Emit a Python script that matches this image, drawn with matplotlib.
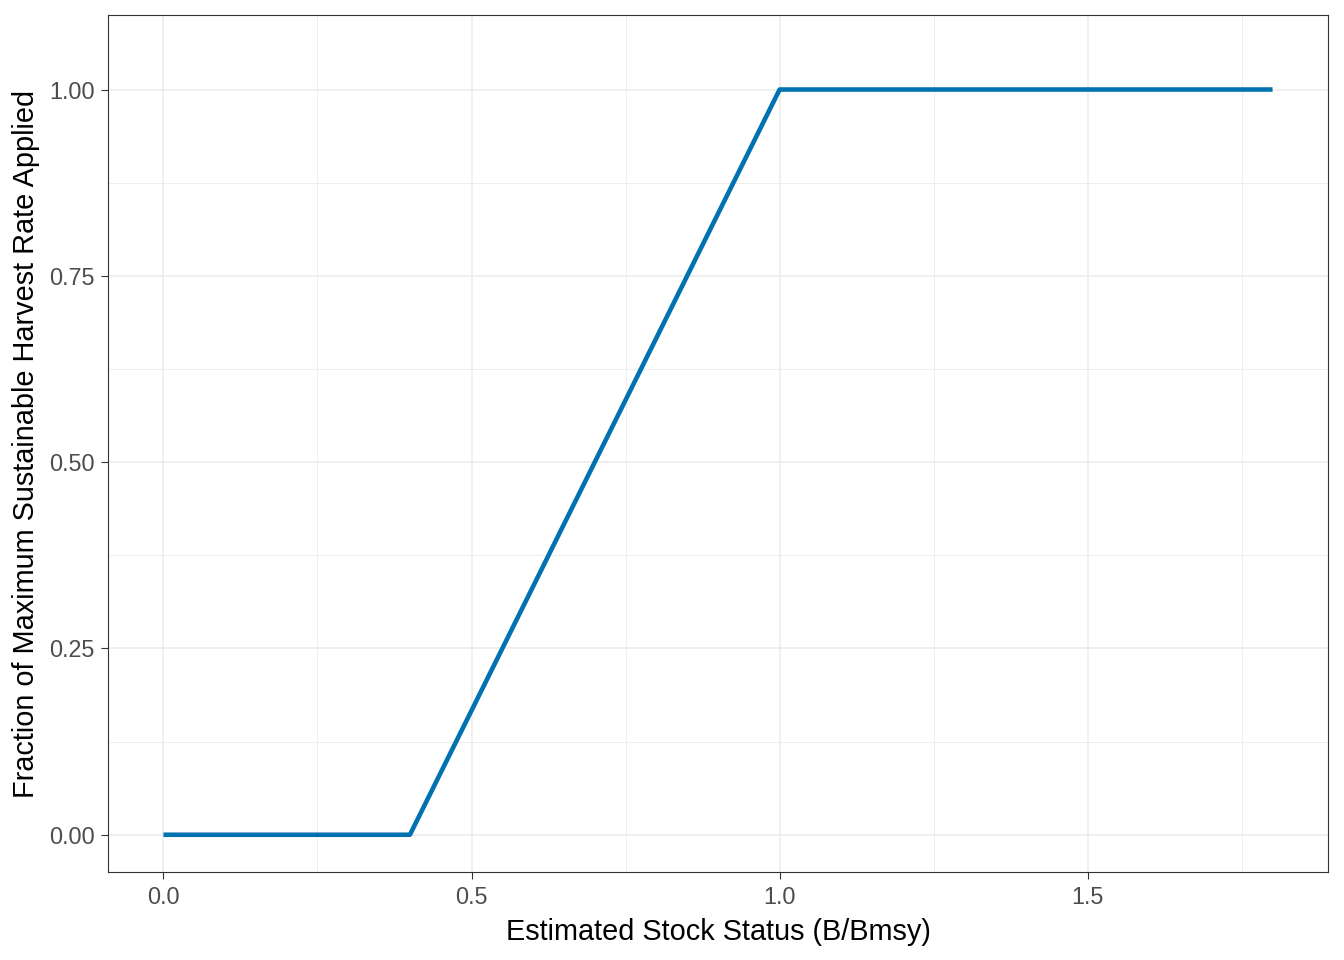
import matplotlib
matplotlib.use('Agg')
import matplotlib.pyplot as plt
import numpy as np

# Harvest control rule breakpoints
stock_status = [0.0, 0.4, 1.0, 1.8]
harvest_fraction = [0.0, 0.0, 1.0, 1.0]

x_ticks = [0.0, 0.5, 1.0, 1.5]
x_tick_labels = ['0.0', '0.5', '1.0', '1.5']
y_ticks = [0.0, 0.25, 0.5, 0.75, 1.0]
y_tick_labels = ['0.00', '0.25', '0.50', '0.75', '1.00']

plt.rcParams['font.family'] = ['Liberation Sans', 'DejaVu Sans']

fig = plt.figure(figsize=(13.44, 9.6), dpi=100)
ax = fig.add_axes([108 / 1344, 1 - 872 / 960, (1328 - 108) / 1344, (872 - 15) / 960])

ax.plot(stock_status, harvest_fraction, color='#0072B2', linewidth=3.3, solid_capstyle='butt', zorder=3)

ax.set_xlim(-0.09, 1.89)
ax.set_ylim(-0.05, 1.1)

ax.set_xticks(x_ticks)
ax.set_xticklabels(x_tick_labels)
ax.set_yticks(y_ticks)
ax.set_yticklabels(y_tick_labels)
ax.set_xticks([0.25, 0.75, 1.25, 1.75], minor=True)
ax.set_yticks([0.125, 0.375, 0.625, 0.875], minor=True)

ax.grid(which='major', color='#EBEBEB', linewidth=1.1, zorder=0)
ax.grid(which='minor', color='#EBEBEB', linewidth=0.6, zorder=0)
ax.set_axisbelow(True)

ax.tick_params(which='major', length=5.3, width=0.8, color='#333333', labelsize=16.8, labelcolor='#4D4D4D', pad=4.5)
ax.tick_params(which='minor', length=0)
for s in ax.spines.values():
    s.set_color('#333333')
    s.set_linewidth(0.8)

ax.set_xlabel('Estimated Stock Status (B/Bmsy)', fontsize=20.8, labelpad=7)
ax.set_ylabel('Fraction of Maximum Sustainable Harvest Rate Applied', fontsize=20.8, labelpad=6)

fig.savefig('out.png', dpi=100)
